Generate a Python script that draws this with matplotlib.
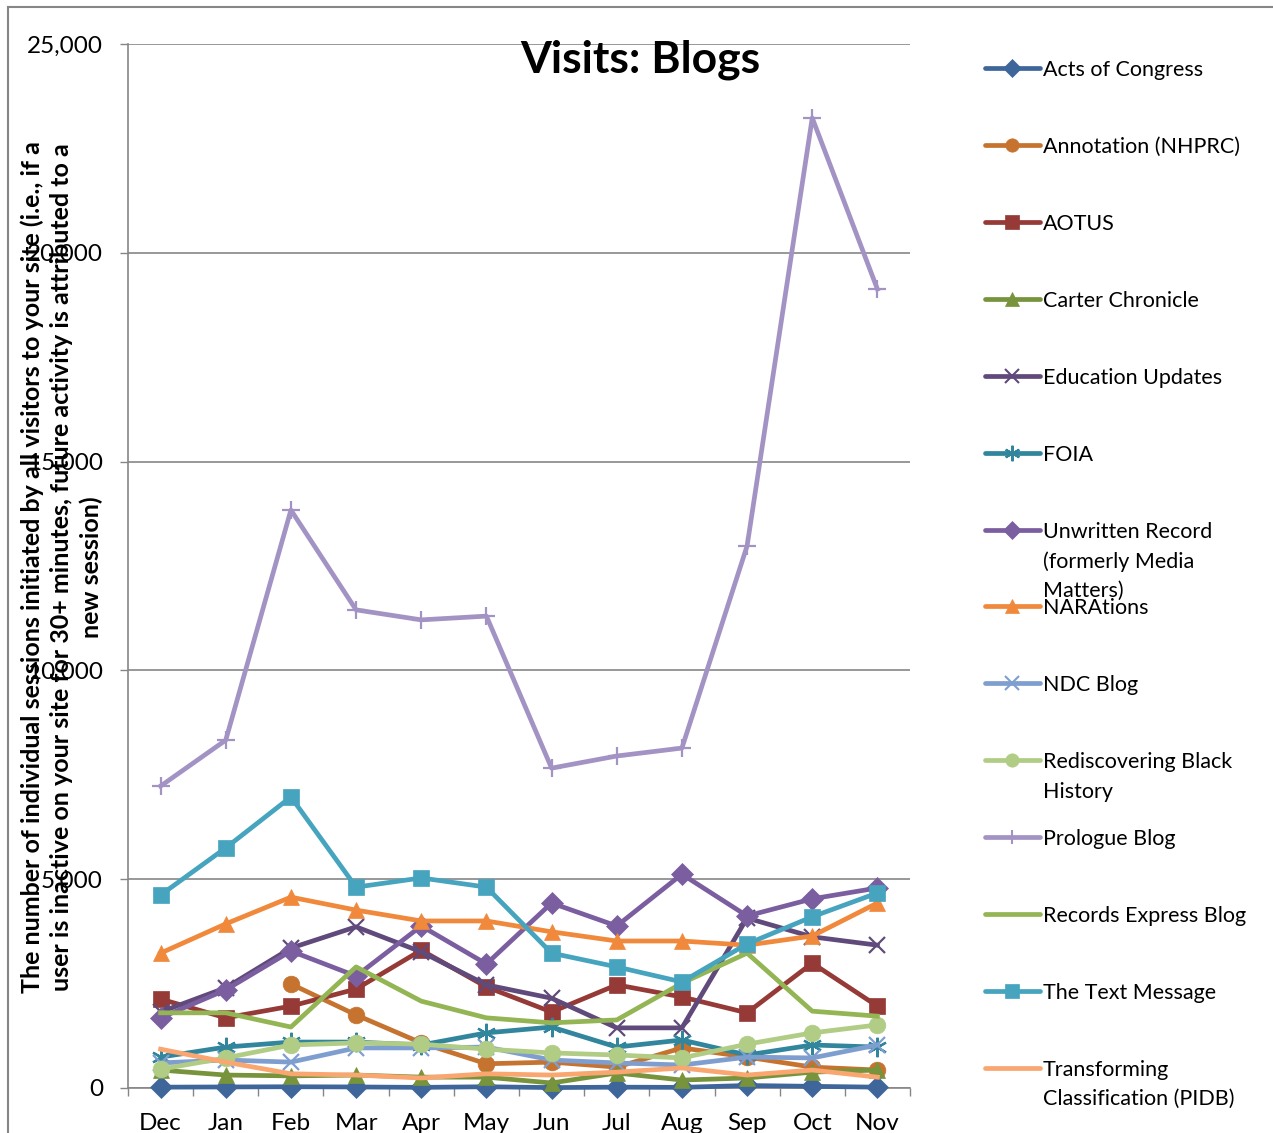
import matplotlib
matplotlib.use("Agg")
import matplotlib.pyplot as plt
from matplotlib.lines import Line2D
import numpy as np

plt.rcParams['font.family'] = ['Lato', 'DejaVu Sans']

months = ["Dec", "Jan", "Feb", "Mar", "Apr", "May", "Jun", "Jul", "Aug", "Sep", "Oct", "Nov"]
nan = np.nan

acts_of_congress = [20, 25, 30, 25, 15, 30, 10, 20, 15, 60, 40, 20]
annotation = [nan, nan, 2490, 1750, 1080, 580, 620, 500, 960, 740, 500, 430]
aotus = [2130, 1680, 1960, 2370, 3300, 2420, 1820, 2470, 2180, 1800, 2990, 1960]
carter = [430, 310, 290, 310, 260, 260, 120, 360, 190, 240, 380, 430]
education = [1820, 2400, 3350, 3860, 3260, 2470, 2150, 1440, 1440, 4070, 3620, 3420]
foia = [740, 980, 1100, 1100, 1030, 1320, 1460, 980, 1150, 790, 1030, 980]
unwritten = [1680, 2350, 3280, 2680, 3880, 2970, 4430, 3880, 5120, 4120, 4530, 4790]
narations = [3230, 3930, 4570, 4260, 4000, 4000, 3740, 3520, 3520, 3420, 3640, 4430]
ndc = [600, 670, 620, 960, 960, 980, 670, 600, 550, 740, 720, 1030]
rediscovering = [450, 720, 1030, 1080, 1050, 930, 840, 790, 720, 1050, 1320, 1510]
prologue = [7230, 8330, 13840, 11450, 11210, 11300, 7660, 7950, 8140, 12980, 23230, 19130]
records_express = [1800, 1800, 1460, 2900, 2080, 1680, 1560, 1630, 2510, 3230, 1840, 1720]
text_message = [4620, 5750, 6970, 4810, 5030, 4810, 3230, 2900, 2540, 3450, 4100, 4670]
transforming = [930, 620, 340, 310, 240, 340, 310, 380, 480, 310, 430, 260]

series = [
    ("Acts of Congress", acts_of_congress, "#3E669B", "D", 11),
    ("Annotation (NHPRC)", annotation, "#C5732F", "o", 12),
    ("AOTUS", aotus, "#953A36", "s", 12),
    ("Carter Chronicle", carter, "#77933C", "^", 12),
    ("Education Updates", education, "#604A7B", "x", 12),
    ("FOIA", foia, "#31859C", (6, 2, 0), 14),
    ("Unwritten Record\n(formerly Media\nMatters)", unwritten, "#7B5EA0", "D", 11),
    ("NARAtions", narations, "#F0893B", "^", 12),
    ("NDC Blog", ndc, "#7E9ED0", "x", 12),
    ("Rediscovering Black\nHistory", rediscovering, "#B1CC85", "o", 12),
    ("Prologue Blog", prologue, "#A393C4", "+", 13),
    ("Records Express Blog", records_express, "#93B553", "", 0),
    ("The Text Message", text_message, "#46A4BF", "s", 12),
    ("Transforming\nClassification (PIDB)", transforming, "#F9A670", "", 0),
]

W, H = 1273, 1133
fig = plt.figure(figsize=(W / 100, H / 100), dpi=100)
ax = fig.add_axes([128 / W, 1 - 1088 / H, (910 - 128) / W, (1088 - 44) / H])

x = np.arange(len(months))
for name, vals, color, marker, ms in series:
    thin = marker in ("x", "+") or isinstance(marker, tuple)
    ax.plot(x, vals, color=color, lw=3.4, marker=marker if marker else None,
            markersize=ms, markeredgewidth=1.6 if thin else 0.5,
            markeredgecolor=color, markerfacecolor=color, clip_on=False, zorder=3)

ax.set_xlim(-0.5, 11.5)
ax.set_ylim(0, 25000)
ax.set_yticks(np.arange(0, 25001, 5000))
ax.set_yticklabels([f"{v:,}" for v in range(0, 25001, 5000)], fontsize=17.5)
ax.set_xticks(x)
ax.set_xticklabels(months, fontsize=17.5)
ax.set_xticks(np.arange(-0.5, 12, 1), minor=True)
ax.tick_params(axis="x", which="major", length=0, pad=18)
ax.tick_params(axis="x", which="minor", length=6, width=1, color="#868686", direction="out")
ax.tick_params(axis="y", length=6, width=1, color="#868686", direction="out", pad=12)
ax.grid(axis="y", color="#868686", lw=1.2, zorder=0)
ax.set_axisbelow(True)
for s in ("top", "right"):
    ax.spines[s].set_visible(False)
for s in ("left", "bottom"):
    ax.spines[s].set_color("#868686")
    ax.spines[s].set_linewidth(1.2)

fig.text(640 / W, 1 - 73 / H, "Visits: Blogs", ha="center", va="baseline",
         fontsize=32, fontweight="bold", zorder=5)

fig.text(62 / W, 1 - 567 / H,
         "The number of individual sessions initiated by all visitors to your site (i.e., if a\n"
         "user is inactive on your site for 30+ minutes, future activity is attributed to a\n"
         "new session)",
         rotation=90, ha="center", va="center", multialignment="center",
         fontsize=18, fontweight="bold", linespacing=1.33)

# legend, drawn by hand to keep Excel spacing
for i, (name, vals, color, marker, ms) in enumerate(series):
    yp = 68 + i * 76.92
    yf = 1 - yp / H
    thin = marker in ("x", "+") or isinstance(marker, tuple)
    fig.add_artist(Line2D([985 / W, 1040 / W], [yf, yf], color=color, lw=3.4,
                          solid_capstyle="round"))
    if marker:
        fig.add_artist(Line2D([1012 / W], [yf], color=color, marker=marker,
                              markersize=ms * 0.8, markeredgewidth=1.5 if thin else 0.5,
                              markeredgecolor=color, markerfacecolor=color))
    fig.text(1043 / W, 1 - (yp - 8) / H, name, ha="left", va="top",
             fontsize=15.5, linespacing=1.58)

# chart area border
fig.add_artist(Line2D([8 / W, 8 / W], [0, 1 - 7 / H], color="#868686", lw=1.5))
fig.add_artist(Line2D([8 / W, 1], [1 - 7 / H, 1 - 7 / H], color="#868686", lw=1.5))

fig.savefig("out.png", dpi=100)
